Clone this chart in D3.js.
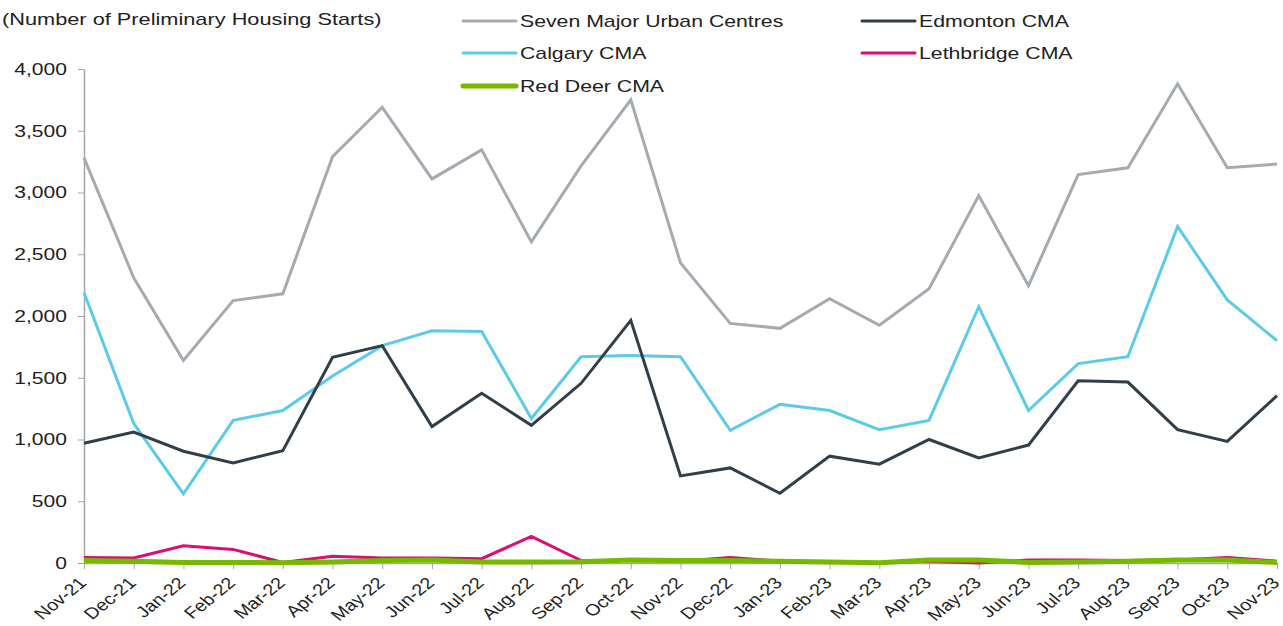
<!DOCTYPE html>
<html>
<head>
<meta charset="utf-8">
<script src="https://cdn.jsdelivr.net/npm/d3@7"></script>
<style>
  body { margin: 0; background: #fff; }
  svg { font-family: "Liberation Sans", Arial, sans-serif; }
</style>
</head>
<body>
<svg id="chart_svg" width="1283" height="626"></svg>
<script>
const months = ["Nov-21","Dec-21","Jan-22","Feb-22","Mar-22","Apr-22","May-22","Jun-22","Jul-22","Aug-22","Sep-22","Oct-22",
  "Nov-22","Dec-22","Jan-23","Feb-23","Mar-23","Apr-23","May-23","Jun-23","Jul-23","Aug-23","Sep-23","Oct-23","Nov-23"];

const sevenMajor = [3280,2310,1640,2125,2180,3290,3690,3110,3345,2600,3215,3750,2430,1940,1900,2140,1925,2220,2975,2245,3145,3200,3880,3200,3230];
const calgary    = [2190,1130,560,1155,1235,1515,1760,1880,1875,1170,1670,1680,1670,1075,1285,1235,1080,1155,2075,1235,1615,1670,2725,2130,1800];
const edmonton   = [970,1060,905,810,910,1665,1760,1105,1375,1115,1455,1965,705,770,565,865,800,1000,850,955,1475,1465,1080,985,1355];
const lethbridge = [45,40,140,110,5,55,40,40,35,215,20,20,15,45,15,10,5,15,0,25,25,20,25,45,15];
const redDeer    = [20,15,5,5,3,8,20,25,8,8,10,25,20,20,15,8,3,25,25,5,8,15,25,25,5];

const yTicks = [0,500,1000,1500,2000,2500,3000,3500,4000];

const seriesList = [
  { name: "Seven Major Urban Centres", values: sevenMajor, color: "#a5abb0", width: 3 },
  { name: "Calgary CMA", values: calgary, color: "#5ccbea", width: 3 },
  { name: "Edmonton CMA", values: edmonton, color: "#323f48", width: 3 },
  { name: "Lethbridge CMA", values: lethbridge, color: "#dc0d73", width: 3 },
  { name: "Red Deer CMA", values: redDeer, color: "#76b900", width: 5 }
];

const svg = d3.select("#chart_svg");
const margin = { top: 69, left: 84, right: 6, bottom: 63 };
const width = 1283, height = 626;
const stretch = 1.24; // text in the reference is widened horizontally

const xScale = d3.scalePoint()
  .domain(months)
  .range([margin.left, width - margin.right]);

const yScale = d3.scaleLinear()
  .domain([0, 4000])
  .range([height - margin.bottom, margin.top]);

// y axis
const gy = svg.append("g")
  .attr("transform", "translate(" + margin.left + ",0)")
  .call(d3.axisLeft(yScale).tickValues(yTicks).tickFormat(d3.format(",")).tickSize(6).tickSizeOuter(0));
gy.select(".domain").attr("stroke", "#a6a6a6").attr("stroke-width", 1.5);
gy.selectAll(".tick line").attr("stroke", "#a6a6a6");
gy.selectAll(".tick text")
  .attr("font-size", 17)
  .attr("fill", "#222")
  .attr("font-family", "Liberation Sans, Arial, sans-serif")
  .attr("x", 0)
  .attr("transform", "translate(-17,0) scale(" + stretch + ",1)");

// x axis
const gx = svg.append("g")
  .attr("transform", "translate(0," + yScale(0) + ")")
  .call(d3.axisBottom(xScale).tickSize(6).tickSizeOuter(0));
gx.select(".domain").attr("stroke", "#a6a6a6").attr("stroke-width", 1.5);
gx.selectAll(".tick line").attr("stroke", "#a6a6a6");
gx.selectAll(".tick text")
  .attr("font-size", 16)
  .attr("fill", "#222")
  .attr("font-family", "Liberation Sans, Arial, sans-serif")
  .attr("text-anchor", "end")
  .attr("dy", null)
  .attr("y", 0)
  .attr("transform", "translate(3,21) scale(" + stretch + ",1) rotate(-45)");

// lines
const line = d3.line()
  .x((d, i) => xScale(months[i]))
  .y(d => yScale(d));

svg.append("g").selectAll("path")
  .data(seriesList)
  .enter()
  .append("path")
  .attr("fill", "none")
  .attr("stroke", d => d.color)
  .attr("stroke-width", d => d.width)
  .attr("stroke-linejoin", "miter")
  .attr("d", d => line(d.values));

// title
svg.append("text")
  .attr("transform", "translate(2,25) scale(1.28,1)")
  .attr("font-size", 17)
  .attr("fill", "#222")
  .text("(Number of Preliminary Housing Starts)");

// legend
const legendPos = [
  { name: "Seven Major Urban Centres", x: 463, y: 21 },
  { name: "Edmonton CMA", x: 862, y: 21 },
  { name: "Calgary CMA", x: 463, y: 53 },
  { name: "Lethbridge CMA", x: 862, y: 53 },
  { name: "Red Deer CMA", x: 463, y: 86 }
];

const legendItems = svg.append("g").attr("class", "legend")
  .selectAll(".legendItem")
  .data(legendPos)
  .enter()
  .append("g")
  .attr("transform", d => "translate(" + d.x + "," + d.y + ")");

legendItems.append("line")
  .attr("x1", 0).attr("x2", 53)
  .attr("y1", 0).attr("y2", 0)
  .attr("stroke-linecap", "round")
  .attr("stroke", d => seriesList.find(s => s.name === d.name).color)
  .attr("stroke-width", d => seriesList.find(s => s.name === d.name).width);

legendItems.append("text")
  .attr("transform", "translate(57,6) scale(1.25,1)")
  .attr("font-size", 17)
  .attr("fill", "#222")
  .text(d => d.name);
</script>
</body>
</html>
